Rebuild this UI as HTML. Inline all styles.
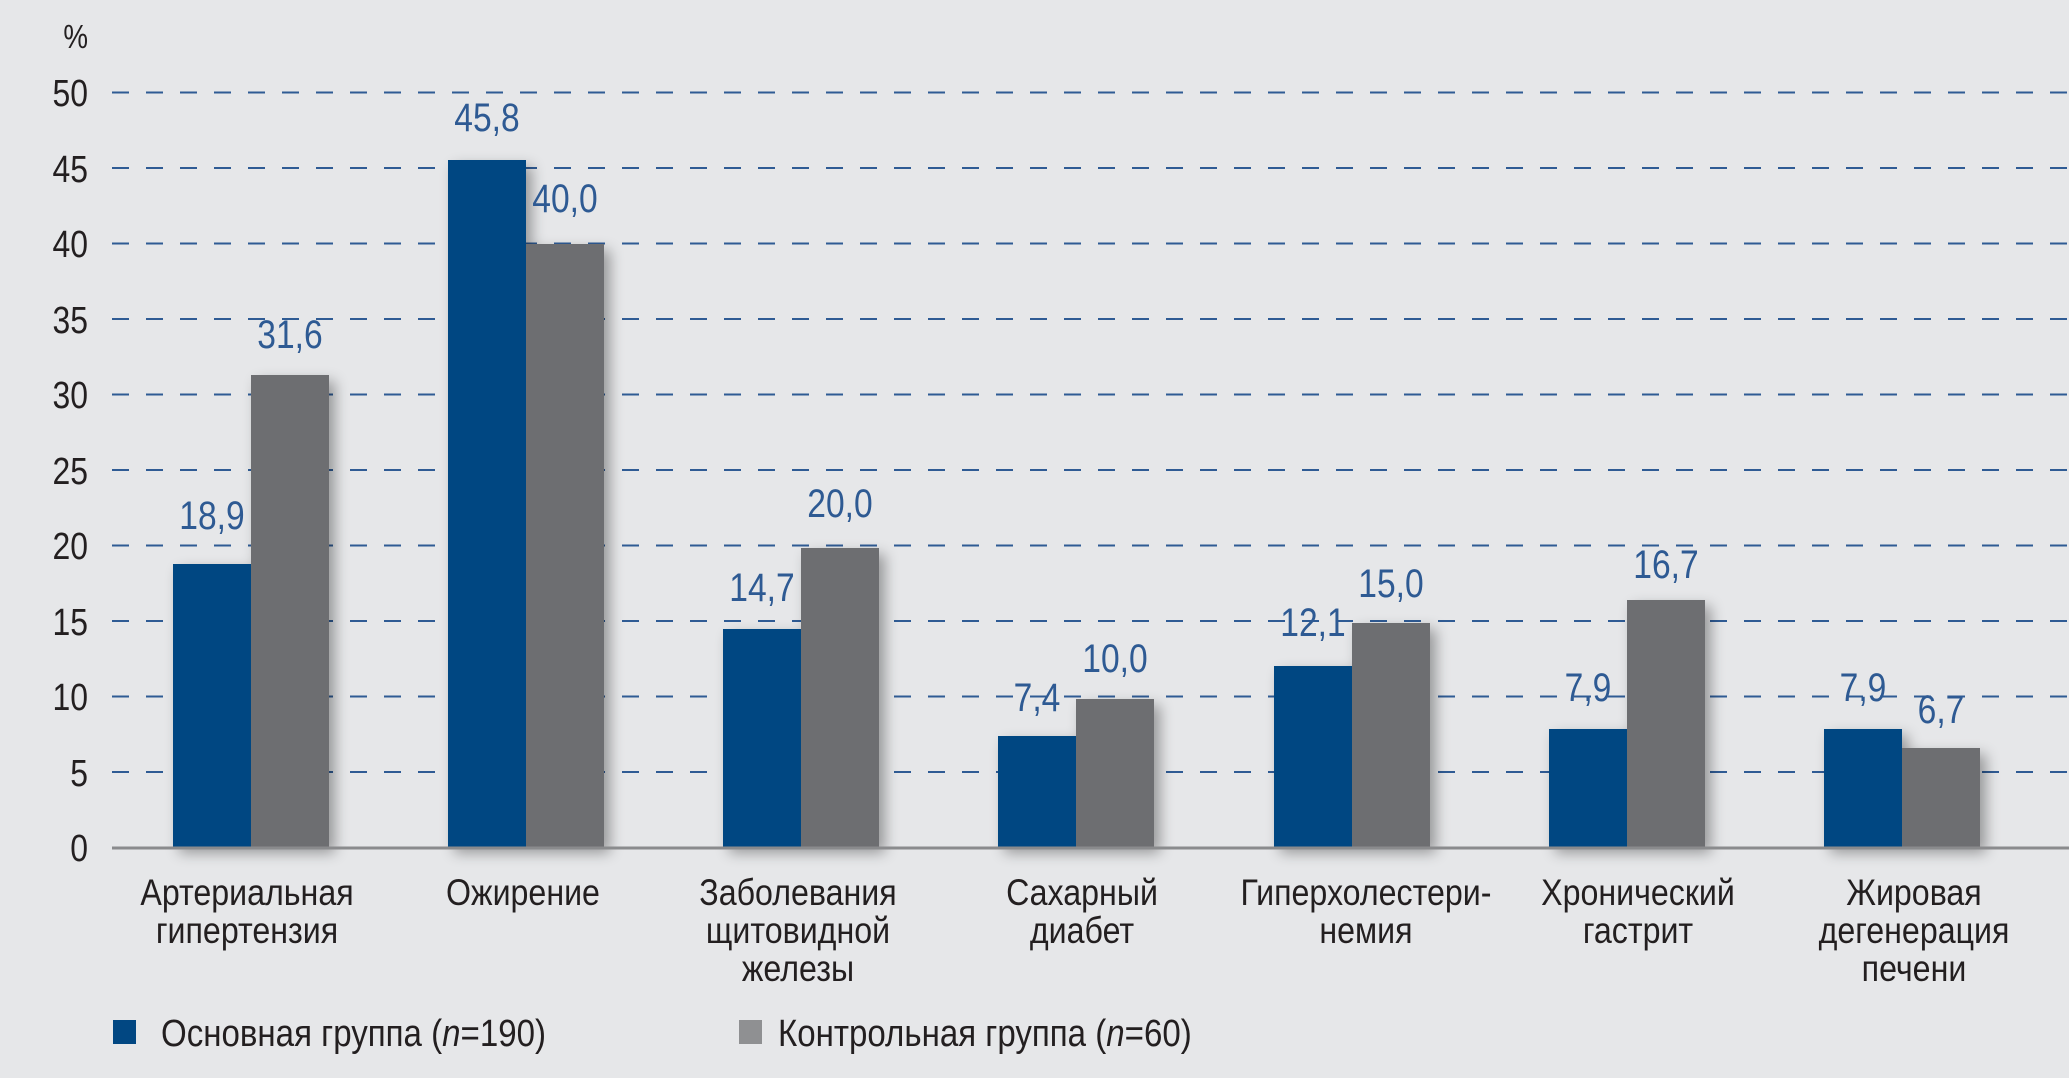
<!DOCTYPE html>
<html><head><meta charset="utf-8"><style>
html,body{margin:0;padding:0;background:#e6e7e9;}
svg{display:block;}
text{font-family:"Liberation Sans Narrow","Liberation Sans",sans-serif;transform-box:fill-box;}
.c text{transform-origin:center;transform:scaleX(0.84);}
.c2 text{transform-origin:center;transform:scaleX(0.87);}
.r text{transform-origin:right;transform:scaleX(0.84);}
.l text{transform-origin:left;transform:scaleX(0.87);}
</style></head><body>
<svg width="2069" height="1078" viewBox="0 0 2069 1078" xmlns="http://www.w3.org/2000/svg">
<defs>
<filter id="sh" x="-30%" y="-10%" width="160%" height="130%">
<feGaussianBlur in="SourceAlpha" stdDeviation="7"/>
<feOffset dx="6" dy="6"/>
<feComponentTransfer><feFuncA type="linear" slope="0.35"/></feComponentTransfer>
<feMerge><feMergeNode/><feMergeNode in="SourceGraphic"/></feMerge>
</filter>
</defs>
<rect width="2069" height="1078" fill="#e6e7e9"/>
<g stroke="#2f5b94" stroke-width="2" stroke-dasharray="17,17">
<line x1="112" y1="92.5" x2="2069" y2="92.5"/>
<line x1="112" y1="168" x2="2069" y2="168"/>
<line x1="112" y1="243.5" x2="2069" y2="243.5"/>
<line x1="112" y1="319" x2="2069" y2="319"/>
<line x1="112" y1="394.5" x2="2069" y2="394.5"/>
<line x1="112" y1="470" x2="2069" y2="470"/>
<line x1="112" y1="545.5" x2="2069" y2="545.5"/>
<line x1="112" y1="621" x2="2069" y2="621"/>
<line x1="112" y1="696.5" x2="2069" y2="696.5"/>
<line x1="112" y1="772" x2="2069" y2="772"/>
</g>
<g class="r" font-size="38" fill="#231f20" text-anchor="end">
<text x="88" y="48" font-size="33">%</text>
<text x="88" y="106">50</text>
<text x="88" y="182">45</text>
<text x="88" y="257">40</text>
<text x="88" y="333">35</text>
<text x="88" y="408">30</text>
<text x="88" y="484">25</text>
<text x="88" y="559">20</text>
<text x="88" y="635">15</text>
<text x="88" y="710">10</text>
<text x="88" y="786">5</text>
<text x="88" y="861">0</text>
</g>
<g filter="url(#sh)">
<rect x="173" y="564" width="78" height="283" fill="#014782"/>
<rect x="251" y="375" width="78" height="472" fill="#6d6e71"/>
<rect x="448" y="160" width="78" height="687" fill="#014782"/>
<rect x="526" y="244" width="78" height="603" fill="#6d6e71"/>
<rect x="723" y="629" width="78" height="218" fill="#014782"/>
<rect x="801" y="548" width="78" height="299" fill="#6d6e71"/>
<rect x="998" y="736" width="78" height="111" fill="#014782"/>
<rect x="1076" y="699" width="78" height="148" fill="#6d6e71"/>
<rect x="1274" y="666" width="78" height="181" fill="#014782"/>
<rect x="1352" y="623" width="78" height="224" fill="#6d6e71"/>
<rect x="1549" y="729" width="78" height="118" fill="#014782"/>
<rect x="1627" y="600" width="78" height="247" fill="#6d6e71"/>
<rect x="1824" y="729" width="78" height="118" fill="#014782"/>
<rect x="1902" y="748" width="78" height="99" fill="#6d6e71"/>
</g>
<line x1="112" y1="848" x2="2069" y2="848" stroke="#8a8b8d" stroke-width="3"/>
<g class="c" font-size="40" fill="#2e5a93" text-anchor="middle">
<text x="212" y="529">18,9</text>
<text x="290" y="348">31,6</text>
<text x="487" y="131">45,8</text>
<text x="565" y="212">40,0</text>
<text x="762" y="601">14,7</text>
<text x="840" y="517">20,0</text>
<text x="1037" y="711">7,4</text>
<text x="1115" y="672">10,0</text>
<text x="1313" y="636">12,1</text>
<text x="1391" y="597">15,0</text>
<text x="1588" y="701">7,9</text>
<text x="1666" y="578">16,7</text>
<text x="1863" y="701">7,9</text>
<text x="1941" y="723">6,7</text>
</g>
<g class="c2" font-size="37" fill="#231f20" text-anchor="middle">
<text x="247" y="905">Артериальная</text>
<text x="247" y="943">гипертензия</text>
<text x="523" y="905">Ожирение</text>
<text x="798" y="905">Заболевания</text>
<text x="798" y="943">щитовидной</text>
<text x="798" y="981">железы</text>
<text x="1082" y="905">Сахарный</text>
<text x="1082" y="943">диабет</text>
<text x="1366" y="905">Гиперхолестери-</text>
<text x="1366" y="943">немия</text>
<text x="1638" y="905">Хронический</text>
<text x="1638" y="943">гастрит</text>
<text x="1914" y="905">Жировая</text>
<text x="1914" y="943">дегенерация</text>
<text x="1914" y="981">печени</text>
</g>
<rect x="113" y="1020" width="23" height="24" fill="#014782"/>
<rect x="739" y="1020" width="23" height="24" fill="#8f9092"/>
<g class="l" font-size="38" fill="#231f20">
<text x="161" y="1046">Основная группа (<tspan font-style="italic">n</tspan>=190)</text>
<text x="778" y="1046">Контрольная группа (<tspan font-style="italic">n</tspan>=60)</text>
</g>
</svg>
</body></html>
